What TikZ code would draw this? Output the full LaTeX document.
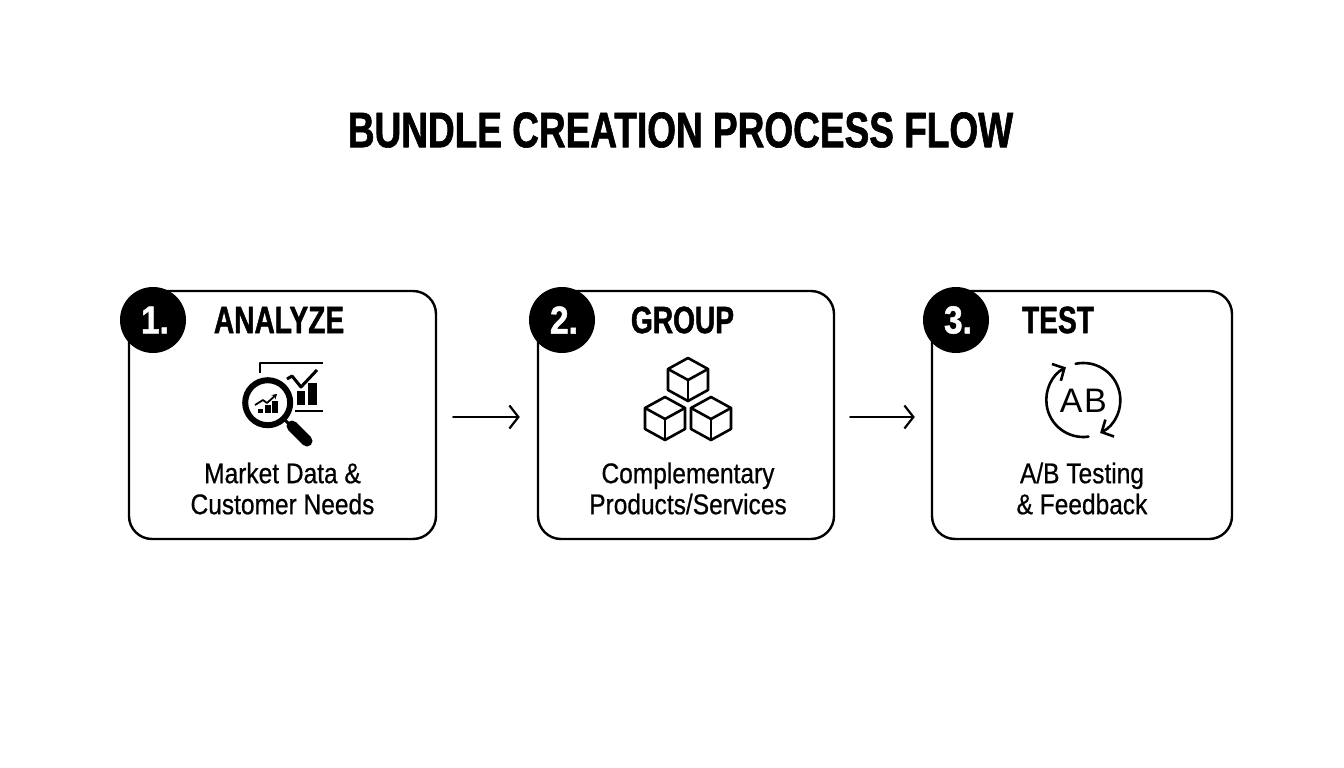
\documentclass[tikz,border=0pt]{standalone}
\usepackage{fontspec}
\setmainfont{Liberation Sans}
\newfontfamily\condfont[FakeStretch=.86,FakeBold=.6]{Liberation Sans}
\newfontfamily\headfont[FakeStretch=.74,FakeBold=1.2]{Liberation Sans Bold}
\newfontfamily\numfont[FakeStretch=.86,FakeBold=1.2]{Liberation Sans Bold}
\usetikzlibrary{arrows.meta}

\begin{document}
\begin{tikzpicture}
  [
    x=1pt, y=-1pt,
    line cap=round, line join=round,
    stepbox/.style={draw=black, line width=2.4pt, rounded corners=23pt, inner sep=0pt, minimum height=248pt},
    badge/.style={circle, fill=black, text=white, minimum size=66pt, inner sep=0pt, font=\numfont\fontsize{39}{39}\selectfont},
    heading/.style={font=\headfont\fontsize{38}{38}\selectfont, inner sep=0pt},
    caption/.style={font=\condfont\fontsize{28.5}{31}\selectfont, align=center, inner sep=0pt},
    flow/.style={-{Straight Barb[length=9pt,width=23pt,line width=2.2pt]}, line width=2pt},
    icon/.style={line width=2.6pt},
  ]

\useasboundingbox (0,0) rectangle (1344,768);
\node[font=\headfont\fontsize{50}{50}\selectfont, inner sep=0pt] (title) at (680.5,130) {BUNDLE CREATION PROCESS FLOW};

\node[stepbox, minimum width=307pt] (box1) at (282.5,415) {};
\node[stepbox, minimum width=296pt] (box2) at (686,415) {};
\node[stepbox, minimum width=300pt] (box3) at (1082,415) {};

\node[badge] (num1) at (153,320) {\kern4pt 1.};
\node[badge] (num2) at (562,320) {\kern4pt 2.};
\node[badge] (num3) at (956,320) {\kern4pt 3.};

\node[heading] (head1) at (279,320) {ANALYZE};
\node[heading] (head2) at (682.5,320) {GROUP};
\node[heading] (head3) at (1058,320) {TEST};

\node[caption] (text1) at (282.5,488.5) {Market Data \&\\Customer Needs};
\node[caption] (text2) at (688,488.5) {Complementary\\Products/Services};
\node[caption] (text3) at (1082,488.5) {A/B Testing\\\& Feedback};

\draw[flow, shorten <=16pt, shorten >=17pt] ([yshift=-2pt]box1.east) -- ([yshift=-2pt]box2.west);
\draw[flow, shorten <=15pt, shorten >=16pt] ([yshift=-2pt]box2.east) -- ([yshift=-2pt]box3.west);

% magnifier over chart
\draw[line width=2.6pt, line cap=butt] (260,373) -- (260,363) -- (323,363);
\draw[line width=2.6pt, line cap=butt] (295,411) -- (323,411);
\fill (297,391) rectangle (305,405);
\fill (308,383) rectangle (317,405);
\draw[line width=3pt, line cap=butt] (287,379) -- (292,376) -- (301,387) -- (317,370);
\draw[line width=6pt] (267.7,402.7) circle (22.5);
\draw[line width=3pt] (284,419) -- (292,427);
\draw[line width=11pt] (292,426) -- (307,441);
\fill (258,409) rectangle (263,413);
\fill (265,405) rectangle (270.5,413);
\fill (272,401) rectangle (278,413);
\draw[-{Stealth[length=5pt,width=6pt]}, line width=1.8pt, line cap=butt] (255,405) -- (263,400) -- (267,403) -- (277,394);

% cubes
\newcommand\isoCube[2]{
  \draw[icon] (#1,#2-21) -- (#1+20,#2-10) -- (#1+20,#2+11) -- (#1,#2+22) -- (#1-20,#2+11) -- (#1-20,#2-10) -- cycle;
  \draw[icon] (#1-20,#2-10) -- (#1,#2+1) -- (#1+20,#2-10);
  \draw[icon] (#1,#2+1) -- (#1,#2+22);
}
\isoCube{688}{379}
\isoCube{665}{418}
\isoCube{711}{418}

% A/B cycle
\def\cx{1083.3}
\def\cy{400}
\draw[icon, -{Straight Barb[length=9pt,width=19pt,line width=2.6pt]}] (\cx,\cy) ++(-102:37) arc (-102:63:37);
\draw[icon, -{Straight Barb[length=9pt,width=19pt,line width=2.6pt]}] (\cx,\cy) ++(82:37) arc (82:242:37);
\node[font=\fontsize{34}{34}\selectfont, inner sep=0pt] (ab) at (\cx,401) {A\kern1.5pt B};

\end{tikzpicture}
\end{document}
